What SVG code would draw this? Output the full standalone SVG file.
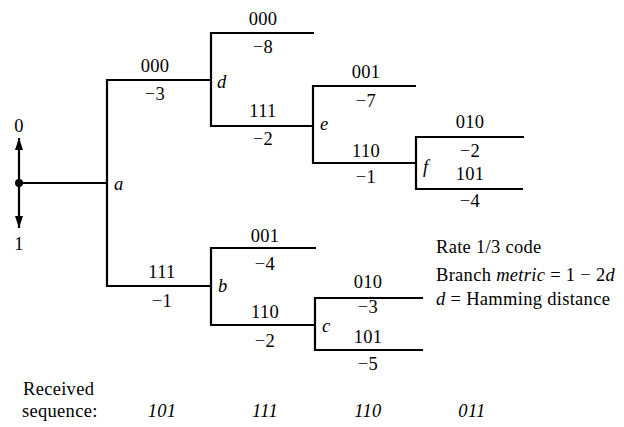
<svg xmlns="http://www.w3.org/2000/svg" width="624" height="427" viewBox="0 0 624 427">
<defs>
<style>
.ln{fill:none;stroke:#000;stroke-width:2.2}
text{font-family:"Liberation Serif","Times New Roman",serif;font-size:18.5px;fill:#000;letter-spacing:0.3px}
.m{text-anchor:middle}
.i{font-style:italic}
</style>
<marker id="ah" viewBox="0 0 12 8" refX="12" refY="4" markerWidth="12" markerHeight="8" orient="auto" markerUnits="userSpaceOnUse">
<path d="M0,0 L12,4 L0,8 z" fill="#000"/>
</marker>
</defs>
<rect width="624" height="427" fill="#fff"/>
<g id="connectors">
<line class="ln" x1="19" y1="183" x2="19" y2="138" marker-end="url(#ah)"/>
<line class="ln" x1="19" y1="183" x2="19" y2="228" marker-end="url(#ah)"/>
<line class="ln" x1="19" y1="183" x2="107" y2="183"/>
<path class="ln" d="M211,80 H107 V286 H211"/>
<path class="ln" d="M314,33 H211 V126 H313"/>
<path class="ln" d="M416,86 H313 V163 H416"/>
<path class="ln" d="M524,137 H416 V189 H523"/>
<path class="ln" d="M316,248 H211 V325 H315"/>
<path class="ln" d="M423,298 H315 V350 H423"/>
</g>
<g id="root">
<circle cx="19" cy="183" r="4" fill="#000"/>
<text class="m" x="19" y="132">0</text>
<text class="m" x="19" y="250">1</text>
</g>
<g id="node-a"><text class="i" x="114" y="190">a</text>
<text class="m" x="155" y="72">000</text><text class="m" x="155" y="100">−3</text>
<text class="m" x="162" y="278">111</text><text class="m" x="162" y="307">−1</text>
</g>
<g id="node-d"><text class="i" x="217" y="88">d</text>
<text class="m" x="263" y="25">000</text><text class="m" x="263" y="53">−8</text>
<text class="m" x="263" y="117">111</text><text class="m" x="263" y="145">−2</text>
</g>
<g id="node-e"><text class="i" x="320" y="130">e</text>
<text class="m" x="366" y="78">001</text><text class="m" x="366" y="107">−7</text>
<text class="m" x="366" y="157">110</text><text class="m" x="366" y="183">−1</text>
</g>
<g id="node-f"><text class="i" x="423" y="173">f</text>
<text class="m" x="470" y="128">010</text><text class="m" x="470" y="157">−2</text>
<text class="m" x="470" y="180">101</text><text class="m" x="470" y="207">−4</text>
</g>
<g id="node-b"><text class="i" x="218" y="292">b</text>
<text class="m" x="265" y="242">001</text><text class="m" x="265" y="270">−4</text>
<text class="m" x="265" y="318">110</text><text class="m" x="265" y="347">−2</text>
</g>
<g id="node-c"><text class="i" x="322" y="332">c</text>
<text class="m" x="368" y="288">010</text><text class="m" x="368" y="313">−3</text>
<text class="m" x="368" y="343">101</text><text class="m" x="368" y="370">−5</text>
</g>
<g id="legend">
<text x="436" y="253">Rate 1/3 code</text>
<text x="436" y="281">Branch <tspan class="i">metric</tspan> = 1 − 2<tspan class="i">d</tspan></text>
<text x="436" y="305"><tspan class="i">d</tspan> = Hamming distance</text>
</g>
<g id="received">
<text x="23" y="395">Received</text>
<text x="22" y="417">sequence:</text>
<text class="m i" x="162" y="417">101</text>
<text class="m i" x="265" y="417">111</text>
<text class="m i" x="368" y="417">110</text>
<text class="m i" x="472" y="417">011</text>
</g>
</svg>
